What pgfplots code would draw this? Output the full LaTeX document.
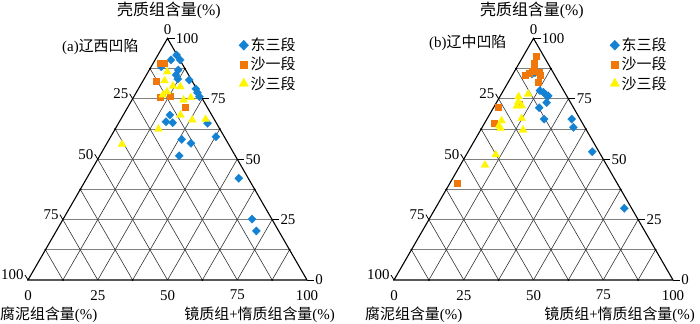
\documentclass[border=0pt]{standalone}
\usepackage{fontspec}
\setmainfont{Liberation Serif}
\newfontfamily\cjk{Noto Sans CJK SC}
\usepackage{pgfplots}
\usepackage{pgfplotstable}
\pgfplotsset{compat=1.18}

\definecolor{cblue}{RGB}{20,130,210}
\definecolor{corange}{RGB}{240,120,10}
\definecolor{cyellow}{RGB}{255,245,0}

% columns: E = exinite (%), V = vitrinite+inertinite (%)
\pgfplotstableread{
E V
93.1 6.7
91.1 9.0
91.1 5.7
88.3 3.6
86.9 10.4
84.9 10.6
83.2 12.1
82.8 16.4
79.1 20.6
77.5 22.0
75.9 23.5
68.3 16.7
65.5 16.7
65.1 19.3
64.9 31.9
59.3 37.7
58.2 26.0
56.6 30.1
51.4 28.5
42.1 54.5
25.2 67.7
20.3 71.7
}\aBlue
\pgfplotstableread{
E V
89.9 2.3
89.7 4.1
82.5 4.6
75.6 9.5
76.3 12.8
71.5 20.7
}\aOrange
\pgfplotstableread{
E V
86.2 6.8
82.5 7.7
80.3 11.8
80.0 14.6
77.9 10.9
76.6 10.0
74.5 18.5
75.5 20.6
68.3 20.5
66.2 25.8
66.5 30.4
62.5 15.5
56.2 5.6
}\aYellow

\pgfplotstableread{
E V
85.3 6.8
85.8 7.6
78.4 13.1
77.7 14.7
76.6 16.2
76.2 17.2
73.4 18.0
71.3 16.4
66.6 20.5
66.6 30.4
63.2 32.7
53.1 44.5
29.7 67.7
}\bBlue
\pgfplotstableread{
E V
92.8 4.4
89.9 5.3
87.9 6.4
86.5 6.4
86.2 9.0
85.8 5.5
84.9 4.6
84.9 9.9
82.1 10.5
71.5 1.7
72.7 8.4
64.9 3.5
40.0 2.5
}\bOrange
\pgfplotstableread{
E V
77.0 9.6
75.9 6.7
73.8 7.7
72.0 8.0
72.1 9.7
66.9 12.3
65.9 5.6
63.7 5.7
62.8 6.8
62.1 15.2
51.9 10.5
47.6 8.8
}\bYellow

\tikzset{
  hgrid/.style={draw=black!50, line width=0.9bp},
  sgrid/.style={draw=black!80, line width=0.6bp},
}

\pgfplotsset{
  tern/.style={
    anchor=south west, x=2.79bp, y=2.416bp,
    xmin=0, xmax=100, ymin=0, ymax=100,
    hide axis, clip=false,
    legend cell align=left,
    legend style={anchor=north west, draw=none, fill=none, inner sep=0pt,
      row sep=1bp, font=\fontsize{15}{18}\selectfont,
      nodes={inner sep=2bp}},
    legend image code/.code={\draw[mark repeat=2,mark phase=2,##1,
      every mark/.append style={scale=1.2}]
      plot coordinates {(0cm,0cm) (0.3cm,0cm) (0.6cm,0cm)};},
  },
  bluemk/.style={only marks, mark=diamond*, mark size=4.2bp,
    mark options={fill=cblue, draw=cblue, line width=0.2bp, xscale=1.3}},
  orangemk/.style={only marks, mark=square*, mark size=3bp,
    mark options={fill=corange, draw=corange, line width=0.2bp}},
  yellowmk/.style={only marks, mark=triangle*, mark size=4.6bp,
    mark options={fill=cyellow, draw=cyellow, line width=0.2bp}},
}

\newcommand{\ternframe}[1]{%
\begin{scope}[shift={(#1,44bp)}, x=2.79bp, y=2.416bp]
  \foreach \e in {12.5,25,37.5,50,62.5,75,87.5}{
    \draw[hgrid] ({\e/2},\e) -- ({100-\e/2},\e);
    \draw[sgrid] (\e,0) -- ({\e+(100-\e)/2},{100-\e});
    \draw[sgrid] (\e,0) -- ({\e/2},\e);
  }
  \draw[line width=1.1bp, line join=miter] (0,0) -- (100,0) -- (50,100) -- cycle;
  \foreach \e in {12.5,37.5,62.5,87.5}{
    \fill (\e,0) circle (1.1bp);
    \fill ({\e/2},\e) circle (1.1bp);
    \fill ({100-\e/2},\e) circle (1.1bp);
  }
  \foreach \e in {0,25,50,75,100}
    \draw[line width=0.8bp] ({100-\e/2},\e) -- ++(7bp,0) node[anchor=west, inner sep=1bp] {\e};
  \foreach \s in {25,50,75,100}
    \draw[line width=0.8bp] ({(100-\s)/2},{100-\s}) -- ++(-3bp,5bp) node[anchor=east, inner sep=1bp] {\s};
  \node[anchor=south, inner sep=0pt] at ([yshift=4bp]50,100) {0};
  \foreach \v in {0,25,50,75,100}
    \node[anchor=north, inner sep=0pt] at ([yshift=-10bp]\v,0) {\v};
\end{scope}}

\begin{document}
\begin{tikzpicture}[font=\fontsize{15}{18}\selectfont]
\useasboundingbox (0,0) rectangle (700bp,324bp);

% ---- panel (a)
\ternframe{28bp}
\node[font=\fontsize{16}{18}\selectfont] at (169bp,314bp) {{\cjk 壳质组含量}(\%)};
\node[anchor=west, inner sep=0pt] at (62bp,277bp) {(a){\cjk 辽西凹陷}};
\node[anchor=west, inner sep=0pt] at (0bp,9bp) {{\cjk 腐泥组含量}(\%)};
\node[anchor=east, inner sep=0pt] at (335bp,9bp) {{\cjk 镜质组}+{\cjk 惰质组含量}(\%)};

\begin{axis}[tern, at={(28bp,44bp)}, legend style={at={(0.755,1.01)}}]
\addplot[bluemk] table[x expr=\thisrow{V}+0.5*\thisrow{E}, y=E] {\aBlue};
\addplot[orangemk] table[x expr=\thisrow{V}+0.5*\thisrow{E}, y=E] {\aOrange};
\addplot[yellowmk] table[x expr=\thisrow{V}+0.5*\thisrow{E}, y=E] {\aYellow};
\legend{{\cjk 东三段},{\cjk 沙一段},{\cjk 沙三段}}
\end{axis}

% ---- panel (b)
\ternframe{394bp}
\node[font=\fontsize{16}{18}\selectfont] at (532bp,314bp) {{\cjk 壳质组含量}(\%)};
\node[anchor=west, inner sep=0pt] at (429bp,281bp) {(b){\cjk 辽中凹陷}};
\node[anchor=west, inner sep=0pt] at (365bp,9bp) {{\cjk 腐泥组含量}(\%)};
\node[anchor=east, inner sep=0pt] at (695bp,9bp) {{\cjk 镜质组}+{\cjk 惰质组含量}(\%)};

\begin{axis}[tern, at={(394bp,44bp)}, legend style={at={(0.773,1.01)}}]
\addplot[bluemk] table[x expr=\thisrow{V}+0.5*\thisrow{E}, y=E] {\bBlue};
\addplot[orangemk] table[x expr=\thisrow{V}+0.5*\thisrow{E}, y=E] {\bOrange};
\addplot[yellowmk] table[x expr=\thisrow{V}+0.5*\thisrow{E}, y=E] {\bYellow};
\legend{{\cjk 东三段},{\cjk 沙一段},{\cjk 沙三段}}
\end{axis}
\end{tikzpicture}
\end{document}
